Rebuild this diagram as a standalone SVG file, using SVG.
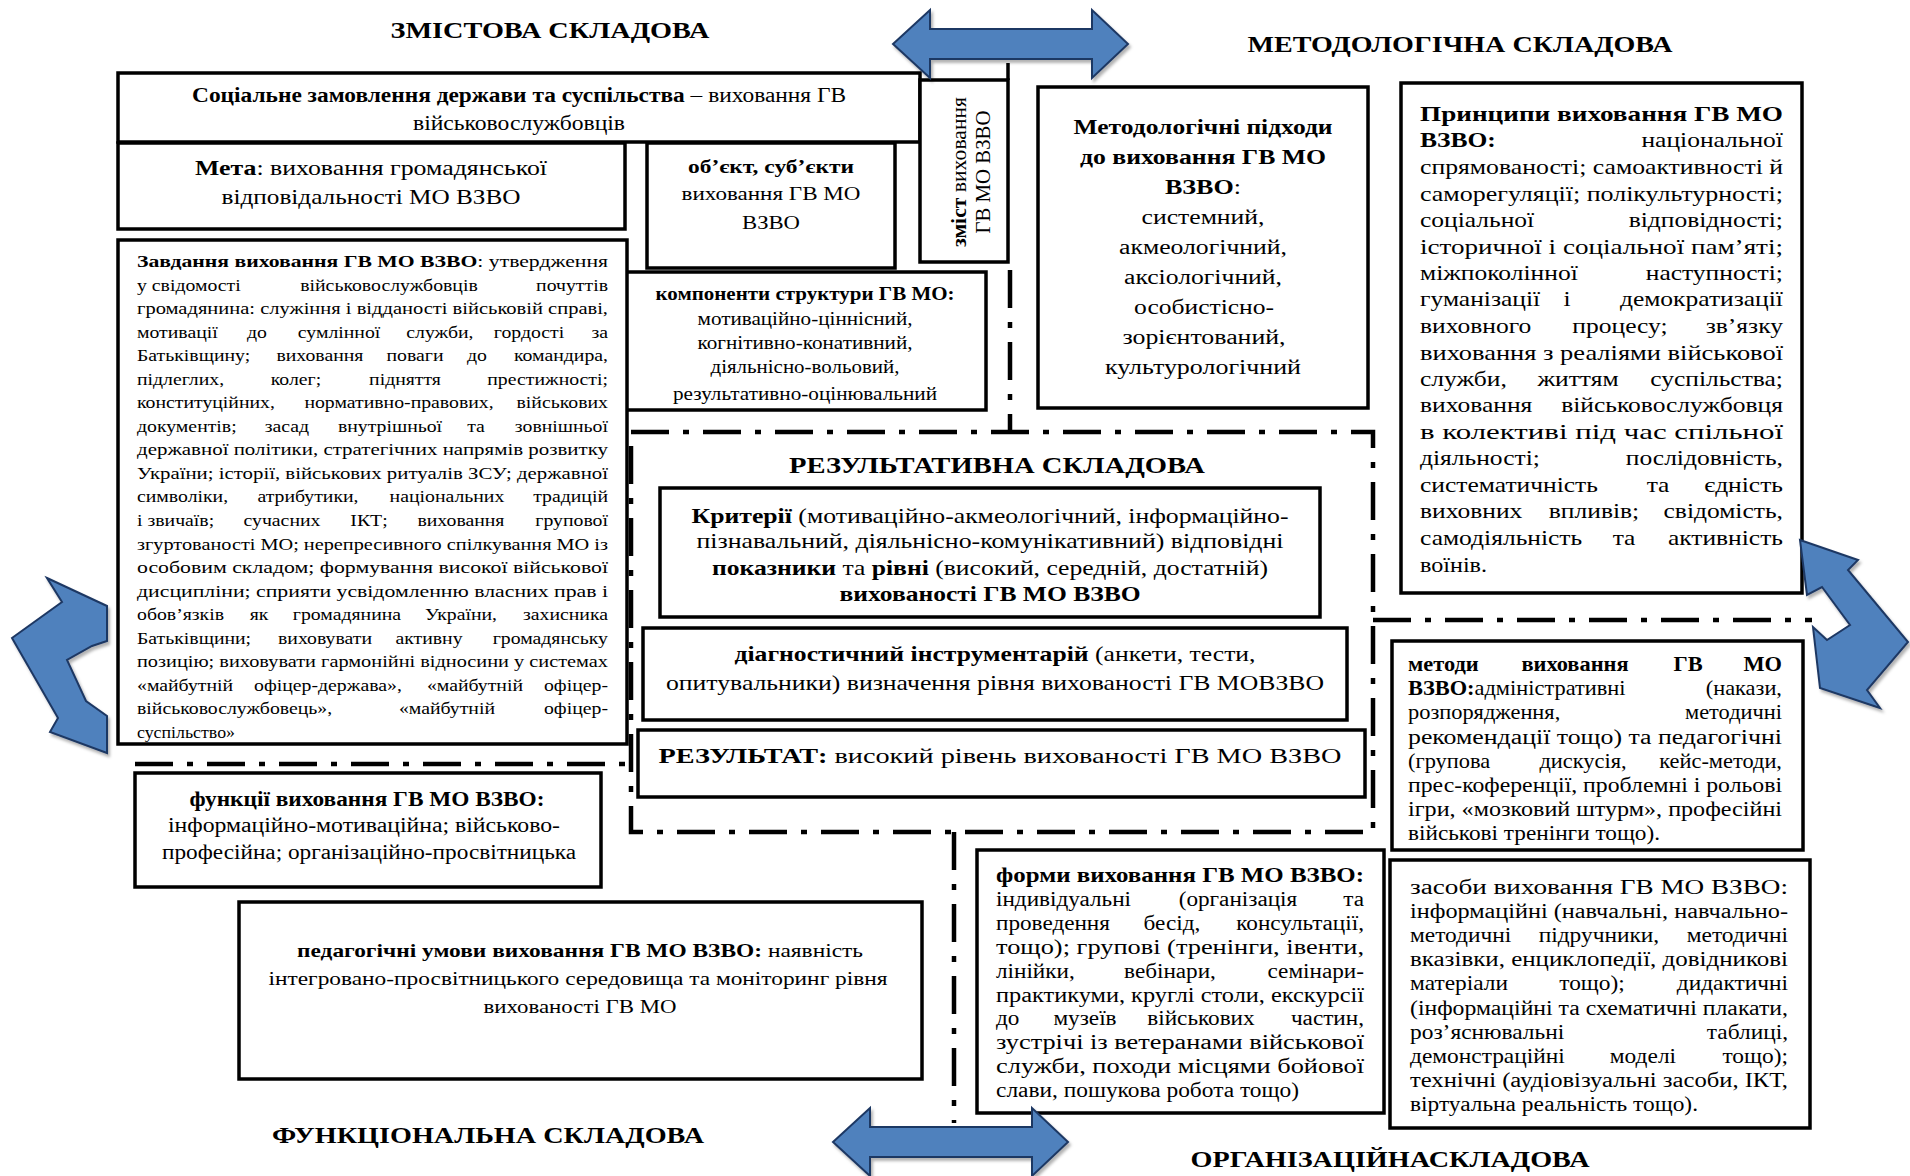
<svg xmlns="http://www.w3.org/2000/svg" width="1910" height="1176" viewBox="0 0 1910 1176">
<defs>
<style>
text{font-family:"Liberation Serif","Times New Roman",serif;fill:#000}
.b{font-weight:bold}
.box{fill:#fff;stroke:#000;stroke-width:3.5}
.dd{fill:none;stroke:#000;stroke-width:4.5;stroke-dasharray:38 14 6 14}
.arr{fill:#4F81BD;stroke:#1F3864;stroke-width:2;filter:url(#sh)}
.ttl{font-size:23px;font-weight:bold;text-anchor:middle}
.c{text-anchor:middle}
.e{text-anchor:end}
</style>
<filter id="sh" x="-20%" y="-20%" width="140%" height="140%">
<feDropShadow dx="2" dy="3" stdDeviation="1.5" flood-color="#000" flood-opacity="0.3"/>
</filter>
</defs>
<rect width="1910" height="1176" fill="#fff"/>

<g id="titles">
<text x="550" y="38" class="ttl" textLength="319" lengthAdjust="spacingAndGlyphs">ЗМІСТОВА СКЛАДОВА</text>
<text x="1460" y="52" class="ttl" textLength="425" lengthAdjust="spacingAndGlyphs">МЕТОДОЛОГІЧНА СКЛАДОВА</text>
<text x="997" y="473" class="ttl" textLength="416" lengthAdjust="spacingAndGlyphs">РЕЗУЛЬТАТИВНА СКЛАДОВА</text>
<text x="488" y="1143" class="ttl" textLength="432" lengthAdjust="spacingAndGlyphs">ФУНКЦІОНАЛЬНА СКЛАДОВА</text>
<text x="1390" y="1167" class="ttl" textLength="399" lengthAdjust="spacingAndGlyphs">ОРГАНІЗАЦІЙНАСКЛАДОВА</text>
</g>

<g id="connectors">
<path class="dd" d="M631,432 H1373 V832 H631 Z"/>
<path class="dd" d="M1010,270 V432"/>
<path class="dd" d="M135,764 H631"/>
<path class="dd" d="M1373,620 H1812"/>
<path class="dd" d="M954,832 V1123"/>
</g>

<g id="social" font-size="20">
<rect class="box" x="118" y="73" width="802" height="69"/>
<text x="519" y="102" class="c" textLength="654" lengthAdjust="spacingAndGlyphs"><tspan class="b">Соціальне замовлення держави та суспільства</tspan> – виховання ГВ</text>
<text x="519" y="130" class="c" textLength="212" lengthAdjust="spacingAndGlyphs">військовослужбовців</text>
</g>

<g id="meta" font-size="22">
<rect class="box" x="118" y="143" width="507" height="86"/>
<text x="371" y="175" class="c" textLength="352" lengthAdjust="spacingAndGlyphs"><tspan class="b">Мета</tspan>: виховання громадянської</text>
<text x="371" y="204" class="c" textLength="299" lengthAdjust="spacingAndGlyphs">відповідальності МО ВЗВО</text>
</g>

<g id="object" font-size="19">
<rect class="box" x="647" y="143" width="248" height="125"/>
<text x="771" y="173" class="c b" textLength="166" lengthAdjust="spacingAndGlyphs">об’єкт, суб’єкти</text>
<text x="771" y="200" class="c" textLength="179" lengthAdjust="spacingAndGlyphs">виховання ГВ МО</text>
<text x="771" y="229" class="c" textLength="58" lengthAdjust="spacingAndGlyphs">ВЗВО</text>
</g>

<g id="content">
<path d="M1008,63 V80" stroke="#000" stroke-width="3.5"/>
<rect class="box" x="920" y="80" width="88" height="182"/>
<text transform="translate(966 172) rotate(-90)" class="c" font-size="20" textLength="150" lengthAdjust="spacingAndGlyphs"><tspan class="b">зміст</tspan> виховання</text>
<text transform="translate(990 172) rotate(-90)" class="c" font-size="21" textLength="123" lengthAdjust="spacingAndGlyphs">ГВ МО ВЗВО</text>
</g>

<g id="components" font-size="18">
<rect class="box" x="625" y="272" width="361" height="138"/>
<text x="805" y="300" class="c b" textLength="299" lengthAdjust="spacingAndGlyphs">компоненти структури ГВ МО:</text>
<text x="805" y="325" class="c" textLength="215" lengthAdjust="spacingAndGlyphs">мотиваційно-ціннісний,</text>
<text x="805" y="349" class="c" textLength="215" lengthAdjust="spacingAndGlyphs">когнітивно-конативний,</text>
<text x="805" y="373" class="c" textLength="189" lengthAdjust="spacingAndGlyphs">діяльнісно-вольовий,</text>
<text x="805" y="400" class="c" textLength="264" lengthAdjust="spacingAndGlyphs">результативно-оцінювальний</text>
</g>

<g id="approaches" font-size="20">
<rect class="box" x="1038" y="87" width="330" height="321"/>
<text x="1203" y="134" class="c b" textLength="259" lengthAdjust="spacingAndGlyphs">Методологічні підходи</text>
<text x="1203" y="164" class="c b" textLength="246" lengthAdjust="spacingAndGlyphs">до виховання ГВ МО</text>
<text x="1203" y="194" class="c" textLength="76" lengthAdjust="spacingAndGlyphs"><tspan class="b">ВЗВО</tspan>:</text>
<text x="1203" y="224" class="c" textLength="123" lengthAdjust="spacingAndGlyphs">системний,</text>
<text x="1203" y="254" class="c" textLength="168" lengthAdjust="spacingAndGlyphs">акмеологічний,</text>
<text x="1203" y="284" class="c" textLength="158" lengthAdjust="spacingAndGlyphs">аксіологічний,</text>
<text x="1204" y="314" class="c" textLength="140" lengthAdjust="spacingAndGlyphs">особистісно-</text>
<text x="1204" y="344" class="c" textLength="163" lengthAdjust="spacingAndGlyphs">зорієнтований,</text>
<text x="1203" y="374" class="c" textLength="196" lengthAdjust="spacingAndGlyphs">культурологічний</text>
</g>

<g id="principles" font-size="22">
<rect class="box" x="1401" y="83" width="401" height="510"/>
<text x="1420" y="121" class="b" textLength="363" lengthAdjust="spacingAndGlyphs">Принципи виховання ГВ МО</text>
<text y="147.5" transform="translate(1420 0) scale(1.16 1)"><tspan x="0" class="b">ВЗВО:</tspan><tspan x="312.9" class="e">національної</tspan></text>
<text x="1420" y="174" textLength="363" lengthAdjust="spacingAndGlyphs">спрямованості; самоактивності й</text>
<text x="1420" y="200.5" textLength="363" lengthAdjust="spacingAndGlyphs">саморегуляції; полікультурності;</text>
<text y="227" transform="translate(1420 0) scale(1.16 1)"><tspan x="0">соціальної</tspan><tspan x="312.9" class="e">відповідності;</tspan></text>
<text x="1420" y="253.5" textLength="363" lengthAdjust="spacingAndGlyphs">історичної і соціальної пам’яті;</text>
<text y="280" transform="translate(1420 0) scale(1.16 1)"><tspan x="0">міжпоколінної</tspan><tspan x="312.9" class="e">наступності;</tspan></text>
<text y="306.5" transform="translate(1420 0) scale(1.16 1)"><tspan x="0">гуманізації</tspan><tspan x="126.7" class="c">і</tspan><tspan x="312.9" class="e">демократизації</tspan></text>
<text y="333" transform="translate(1420 0) scale(1.16 1)"><tspan x="0">виховного</tspan><tspan x="172.4" class="c">процесу;</tspan><tspan x="312.9" class="e">зв’язку</tspan></text>
<text x="1420" y="359.5" textLength="363" lengthAdjust="spacingAndGlyphs">виховання з реаліями військової</text>
<text y="386" transform="translate(1420 0) scale(1.16 1)"><tspan x="0">служби,</tspan><tspan x="136.2" class="c">життям</tspan><tspan x="312.9" class="e">суспільства;</tspan></text>
<text y="412.5" transform="translate(1420 0) scale(1.16 1)"><tspan x="0">виховання</tspan><tspan x="312.9" class="e">військовослужбовця</tspan></text>
<text x="1420" y="439" textLength="363" lengthAdjust="spacingAndGlyphs">в колективі під час спільної</text>
<text y="465.5" transform="translate(1420 0) scale(1.16 1)"><tspan x="0">діяльності;</tspan><tspan x="312.9" class="e">послідовність,</tspan></text>
<text y="492" transform="translate(1420 0) scale(1.16 1)"><tspan x="0">систематичність</tspan><tspan x="205.2" class="c">та</tspan><tspan x="312.9" class="e">єдність</tspan></text>
<text y="518.5" transform="translate(1420 0) scale(1.16 1)"><tspan x="0">виховних</tspan><tspan x="150" class="c">впливів;</tspan><tspan x="312.9" class="e">свідомість,</tspan></text>
<text y="545" transform="translate(1420 0) scale(1.16 1)"><tspan x="0">самодіяльність</tspan><tspan x="175.9" class="c">та</tspan><tspan x="312.9" class="e">активність</tspan></text>
<text x="1420" y="571.5" textLength="67" lengthAdjust="spacingAndGlyphs">воїнів.</text>
</g>

<g id="tasks" font-size="17.5">
<rect class="box" x="118" y="240" width="509" height="504"/>
<text x="137" y="267" textLength="471" lengthAdjust="spacingAndGlyphs"><tspan class="b">Завдання виховання ГВ МО ВЗВО</tspan>: утвердження</text>
<text y="290.6" transform="translate(137 0) scale(1.13 1)"><tspan x="0">у свідомості</tspan><tspan x="223" class="c">військовослужбовців</tspan><tspan x="416.8" class="e">почуттів</tspan></text>
<text x="137" y="314.1" textLength="471" lengthAdjust="spacingAndGlyphs">громадянина: служіння і відданості військовій справі,</text>
<text y="337.7" transform="translate(137 0) scale(1.13 1)"><tspan x="0">мотивації</tspan><tspan x="106.2" class="c">до</tspan><tspan x="178.8" class="c">сумлінної</tspan><tspan x="268.1" class="c">служби,</tspan><tspan x="346.9" class="c">гордості</tspan><tspan x="416.8" class="e">за</tspan></text>
<text y="361.2" transform="translate(137 0) scale(1.13 1)"><tspan x="0">Батьківщину;</tspan><tspan x="161.9" class="c">виховання</tspan><tspan x="246" class="c">поваги</tspan><tspan x="300.9" class="c">до</tspan><tspan x="416.8" class="e">командира,</tspan></text>
<text y="384.8" transform="translate(137 0) scale(1.13 1)"><tspan x="0">підлеглих,</tspan><tspan x="140.7" class="c">колег;</tspan><tspan x="237.2" class="c">підняття</tspan><tspan x="416.8" class="e">престижності;</tspan></text>
<text y="408.3" transform="translate(137 0) scale(1.13 1)"><tspan x="0">конституційних,</tspan><tspan x="231.9" class="c">нормативно-правових,</tspan><tspan x="416.8" class="e">військових</tspan></text>
<text y="431.9" transform="translate(137 0) scale(1.13 1)"><tspan x="0">документів;</tspan><tspan x="132.7" class="c">засад</tspan><tspan x="223.9" class="c">внутрішньої</tspan><tspan x="300" class="c">та</tspan><tspan x="416.8" class="e">зовнішньої</tspan></text>
<text x="137" y="455.4" textLength="471" lengthAdjust="spacingAndGlyphs">державної політики, стратегічних напрямів розвитку</text>
<text x="137" y="479" textLength="471" lengthAdjust="spacingAndGlyphs">України; історії, військових ритуалів ЗСУ; державної</text>
<text y="502.5" transform="translate(137 0) scale(1.13 1)"><tspan x="0">символіки,</tspan><tspan x="151.3" class="c">атрибутики,</tspan><tspan x="274.3" class="c">національних</tspan><tspan x="416.8" class="e">традицій</tspan></text>
<text y="526.1" transform="translate(137 0) scale(1.13 1)"><tspan x="0">і звичаїв;</tspan><tspan x="128.3" class="c">сучасних</tspan><tspan x="205.3" class="c">ІКТ;</tspan><tspan x="286.7" class="c">виховання</tspan><tspan x="416.8" class="e">групової</tspan></text>
<text x="137" y="549.6" textLength="471" lengthAdjust="spacingAndGlyphs">згуртованості МО; нерепресивного спілкування МО із</text>
<text x="137" y="573.2" textLength="471" lengthAdjust="spacingAndGlyphs">особовим складом; формування високої військової</text>
<text x="137" y="596.7" textLength="471" lengthAdjust="spacingAndGlyphs">дисципліни; сприяти усвідомленню власних прав і</text>
<text y="620.3" transform="translate(137 0) scale(1.13 1)"><tspan x="0">обов’язків</tspan><tspan x="108" class="c">як</tspan><tspan x="185.8" class="c">громадянина</tspan><tspan x="286.7" class="c">України,</tspan><tspan x="416.8" class="e">захисника</tspan></text>
<text y="643.8" transform="translate(137 0) scale(1.13 1)"><tspan x="0">Батьківщини;</tspan><tspan x="166.4" class="c">виховувати</tspan><tspan x="258.4" class="c">активну</tspan><tspan x="416.8" class="e">громадянську</tspan></text>
<text x="137" y="667.4" textLength="471" lengthAdjust="spacingAndGlyphs">позицію; виховувати гармонійні відносини у системах</text>
<text y="690.9" transform="translate(137 0) scale(1.13 1)"><tspan x="0">«майбутній</tspan><tspan x="169" class="c">офіцер-держава»,</tspan><tspan x="299.1" class="c">«майбутній</tspan><tspan x="416.8" class="e">офіцер-</tspan></text>
<text y="714.5" transform="translate(137 0) scale(1.13 1)"><tspan x="0">військовослужбовець»,</tspan><tspan x="274.3" class="c">«майбутній</tspan><tspan x="416.8" class="e">офіцер-</tspan></text>
<text x="137" y="738" textLength="98" lengthAdjust="spacingAndGlyphs">суспільство»</text>
</g>

<g id="criteria" font-size="21">
<rect class="box" x="660" y="488" width="660" height="129"/>
<text x="990" y="523" class="c" textLength="597" lengthAdjust="spacingAndGlyphs"><tspan class="b">Критерії</tspan> (мотиваційно-акмеологічний, інформаційно-</text>
<text x="990" y="548" class="c" textLength="587" lengthAdjust="spacingAndGlyphs">пізнавальний, діяльнісно-комунікативний) відповідні</text>
<text x="990" y="575" class="c" textLength="556" lengthAdjust="spacingAndGlyphs"><tspan class="b">показники</tspan> та <tspan class="b">рівні</tspan> (високий, середній, достатній)</text>
<text x="990" y="601" class="c b" textLength="301" lengthAdjust="spacingAndGlyphs">вихованості ГВ МО ВЗВО</text>
</g>

<g id="diagnostics" font-size="21">
<rect class="box" x="643" y="628" width="704" height="92"/>
<text x="995" y="661" class="c" textLength="521" lengthAdjust="spacingAndGlyphs"><tspan class="b">діагностичний інструментарій</tspan> (анкети, тести,</text>
<text x="995" y="690" class="c" textLength="658" lengthAdjust="spacingAndGlyphs">опитувальники) визначення рівня вихованості ГВ МОВЗВО</text>
</g>

<g id="result" font-size="22">
<rect class="box" x="638" y="730" width="727" height="67"/>
<text x="1000" y="763" class="c" textLength="683" lengthAdjust="spacingAndGlyphs"><tspan class="b">РЕЗУЛЬТАТ:</tspan> високий рівень вихованості ГВ МО ВЗВО</text>
</g>

<g id="functions" font-size="20">
<rect class="box" x="135" y="773" width="466" height="114"/>
<text x="367" y="806" class="c b" textLength="355" lengthAdjust="spacingAndGlyphs">функції виховання ГВ МО ВЗВО:</text>
<text x="364" y="832" class="c" textLength="392" lengthAdjust="spacingAndGlyphs">інформаційно-мотиваційна; військово-</text>
<text x="369" y="859" class="c" textLength="414" lengthAdjust="spacingAndGlyphs">професійна; організаційно-просвітницька</text>
</g>

<g id="conditions" font-size="19">
<rect class="box" x="239" y="902" width="683" height="177"/>
<text x="580" y="957" class="c" textLength="566" lengthAdjust="spacingAndGlyphs"><tspan class="b">педагогічні умови виховання ГВ МО ВЗВО:</tspan> наявність</text>
<text x="578" y="985" class="c" textLength="619" lengthAdjust="spacingAndGlyphs">інтегровано-просвітницького середовища та моніторинг рівня</text>
<text x="580" y="1013" class="c" textLength="193" lengthAdjust="spacingAndGlyphs">вихованості ГВ МО</text>
</g>

<g id="methods" font-size="20">
<rect class="box" x="1392" y="641" width="411" height="209"/>
<text y="671" class="b" transform="translate(1408 0) scale(1.12 1)"><tspan x="0">методи</tspan><tspan x="149.1" class="c">виховання</tspan><tspan x="250" class="c">ГВ</tspan><tspan x="333.9" class="e">МО</tspan></text>
<text y="695.2" transform="translate(1408 0) scale(1.12 1)"><tspan x="0"><tspan class="b">ВЗВО:</tspan>адміністративні</tspan><tspan x="333.9" class="e">(накази,</tspan></text>
<text y="719.4" transform="translate(1408 0) scale(1.12 1)"><tspan x="0">розпорядження,</tspan><tspan x="333.9" class="e">методичні</tspan></text>
<text x="1408" y="743.6" textLength="374" lengthAdjust="spacingAndGlyphs">рекомендації тощо) та педагогічні</text>
<text y="767.8" transform="translate(1408 0) scale(1.12 1)"><tspan x="0">(групова</tspan><tspan x="156.3" class="c">дискусія,</tspan><tspan x="333.9" class="e">кейс-методи,</tspan></text>
<text x="1408" y="792" textLength="374" lengthAdjust="spacingAndGlyphs">прес-коференції, проблемні і рольові</text>
<text x="1408" y="816.2" textLength="374" lengthAdjust="spacingAndGlyphs">ігри, «мозковий штурм», професійні</text>
<text x="1408" y="840.4" textLength="252" lengthAdjust="spacingAndGlyphs">військові тренінги тощо).</text>
</g>

<g id="forms" font-size="20">
<rect class="box" x="977" y="850" width="407" height="263"/>
<text x="996" y="882" class="b" textLength="368" lengthAdjust="spacingAndGlyphs">форми виховання ГВ МО ВЗВО:</text>
<text y="906" transform="translate(996 0) scale(1.16 1)"><tspan x="0">індивідуальні</tspan><tspan x="208.6" class="c">(організація</tspan><tspan x="317.2" class="e">та</tspan></text>
<text y="929.9" transform="translate(996 0) scale(1.16 1)"><tspan x="0">проведення</tspan><tspan x="151.7" class="c">бесід,</tspan><tspan x="317.2" class="e">консультації,</tspan></text>
<text x="996" y="953.8" textLength="368" lengthAdjust="spacingAndGlyphs">тощо); групові (тренінги, івенти,</text>
<text y="977.7" transform="translate(996 0) scale(1.16 1)"><tspan x="0">лінійки,</tspan><tspan x="150" class="c">вебінари,</tspan><tspan x="317.2" class="e">семінари-</tspan></text>
<text x="996" y="1001.6" textLength="368" lengthAdjust="spacingAndGlyphs">практикуми, круглі столи, екскурсії</text>
<text y="1025.5" transform="translate(996 0) scale(1.16 1)"><tspan x="0">до</tspan><tspan x="76.7" class="c">музеїв</tspan><tspan x="176.7" class="c">військових</tspan><tspan x="317.2" class="e">частин,</tspan></text>
<text x="996" y="1049.4" textLength="368" lengthAdjust="spacingAndGlyphs">зустрічі із ветеранами військової</text>
<text x="996" y="1073.3" textLength="368" lengthAdjust="spacingAndGlyphs">служби, походи місцями бойової</text>
<text x="996" y="1097.2" textLength="303" lengthAdjust="spacingAndGlyphs">слави, пошукова робота тощо)</text>
</g>

<g id="means" font-size="20">
<rect class="box" x="1390" y="860" width="420" height="268"/>
<text x="1410" y="894" textLength="378" lengthAdjust="spacingAndGlyphs">засоби виховання ГВ МО ВЗВО:</text>
<text x="1410" y="918.1" textLength="378" lengthAdjust="spacingAndGlyphs">інформаційні (навчальні, навчально-</text>
<text y="942.2" transform="translate(1410 0) scale(1.17 1)"><tspan x="0">методичні</tspan><tspan x="161.5" class="c">підручники,</tspan><tspan x="323.1" class="e">методичні</tspan></text>
<text x="1410" y="966.3" textLength="378" lengthAdjust="spacingAndGlyphs">вказівки, енциклопедії, довідникові</text>
<text y="990.4" transform="translate(1410 0) scale(1.17 1)"><tspan x="0">матеріали</tspan><tspan x="155.6" class="c">тощо);</tspan><tspan x="323.1" class="e">дидактичні</tspan></text>
<text x="1410" y="1014.5" textLength="378" lengthAdjust="spacingAndGlyphs">(інформаційні та схематичні плакати,</text>
<text y="1038.6" transform="translate(1410 0) scale(1.17 1)"><tspan x="0">роз’яснювальні</tspan><tspan x="323.1" class="e">таблиці,</tspan></text>
<text y="1062.7" transform="translate(1410 0) scale(1.17 1)"><tspan x="0">демонстраційні</tspan><tspan x="199.1" class="c">моделі</tspan><tspan x="323.1" class="e">тощо);</tspan></text>
<text x="1410" y="1086.8" textLength="378" lengthAdjust="spacingAndGlyphs">технічні (аудіовізуальні засоби, ІКТ,</text>
<text x="1410" y="1110.9" textLength="288" lengthAdjust="spacingAndGlyphs">віртуальна реальність тощо).</text>
</g>

<g id="arrows">
<path class="arr" d="M893,44 L930,10 V29 H1092 V10 L1128,44 L1092,78 V59 H930 V78 Z"/>
<path class="arr" d="M833,1142 L870,1108 V1127 H1032 V1108 L1068,1142 L1032,1176 V1157 H870 V1176 Z"/>
<path class="arr" d="M47,578 L107,606 L107,641 L92,646 L67,660 L86,701 L107,716 L107,753 L50,732 L58,718 L12,638 L62,602 Z"/>
<path class="arr" d="M1800,540 L1858,560 L1848,570 L1908,642 L1867,690 L1880,708 L1820,688 L1813,627 L1827,640 L1850,625 L1822,587 L1807,595 Z"/>
</g>
</svg>
